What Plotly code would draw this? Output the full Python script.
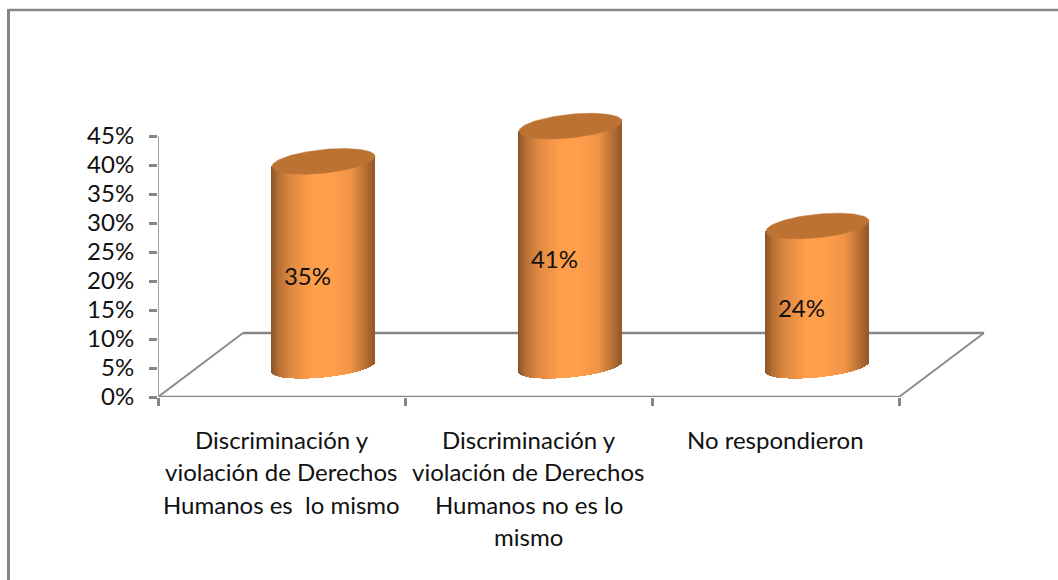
import numpy as np
import plotly.graph_objects as go

# ---- data ----
categories = [
    ["Discriminación y", "violación de Derechos", "Humanos es  lo mismo"],
    ["Discriminación y", "violación de Derechos", "Humanos no es lo", "mismo"],
    ["No respondieron"],
]
values = [35, 41, 24]
value_labels = ["35%", "41%", "24%"]
y_ticks = [0, 5, 10, 15, 20, 25, 30, 35, 40, 45]
y_tick_labels = ["0%", "5%", "10%", "15%", "20%", "25%", "30%", "35%", "40%", "45%"]

# ---- style / geometry ----
W, H = 1058, 580
L, R, T, B = 158, 990, 100, 397      # plot area in page pixels
PX_CAT = 247.0                        # pixels per category
PX_PCT = 5.8                          # pixels per percentage point
X0 = -0.5
GREY = "#868686"
FONT = "Lato"
FS = 24
DEPTH_X = 85 / PX_CAT                 # floor depth, category units
DEPTH_Y = 64 / PX_PCT                 # floor depth, value units
BAR_SHIFT = 42 / PX_CAT               # bars stand mid-depth
BAR_BASE = 30 / PX_PCT
BAR_SCALE = 1.013
RADIUS = 51.5 / PX_CAT
TILT = 5 / PX_PCT
TOP_B = 11.8 / PX_PCT
BOT_B = 10.5 / PX_PCT
STRIP = 1.0 / PX_CAT

stops_u = [-1.0, -0.85, -0.6, -0.2, 0.2, 0.55, 0.75, 0.9, 1.0]
stops_r = [0x8a, 0xb8, 0xe0, 0xff, 0xff, 0xf2, 0xc8, 0xaa, 0x96]
stops_g = [0x55, 0x70, 0x8a, 0x9e, 0x9e, 0x94, 0x7a, 0x67, 0x58]
stops_b = [0x28, 0x35, 0x42, 0x4b, 0x4b, 0x47, 0x3a, 0x30, 0x28]


def shade(u):
    return "rgb(%d,%d,%d)" % (
        np.interp(u, stops_u, stops_r),
        np.interp(u, stops_u, stops_g),
        np.interp(u, stops_u, stops_b),
    )


fig = go.Figure()

# cylinder bodies: one narrow bar per pixel column, ellipse at the foot
for i, v in enumerate(values):
    cx = i + BAR_SHIFT
    top = BAR_BASE + v * BAR_SCALE
    us = np.arange(-1 + STRIP / RADIUS / 2, 1, STRIP / RADIUS)
    xs = cx + RADIUS * us
    bases = BAR_BASE + TILT * us - BOT_B * np.sqrt(1 - us ** 2)
    tops = top + TILT * us
    fig.add_trace(go.Bar(
        x=xs, y=tops - bases, base=bases, width=STRIP * 1.15,
        marker=dict(color=[shade(u) for u in us], line=dict(width=0)),
        showlegend=False, hoverinfo="skip",
    ))

# cylinder tops
for i, v in enumerate(values):
    cx = i + BAR_SHIFT
    top = BAR_BASE + v * BAR_SCALE
    t = np.linspace(0, 2 * np.pi, 121)
    fig.add_trace(go.Scatter(
        x=cx + RADIUS * np.cos(t),
        y=top + TILT * np.cos(t) + TOP_B * np.sin(t),
        mode="lines", fill="toself", fillcolor="#BC7233",
        line=dict(color="#BC7233", width=0.5),
        showlegend=False, hoverinfo="skip", cliponaxis=False,
    ))

# axis lines
axis_line = dict(color=GREY, width=2.6)
fig.add_trace(go.Scatter(x=[X0, X0 + len(values)], y=[0, 0], mode="lines", line=axis_line,
                         showlegend=False, hoverinfo="skip", cliponaxis=False))
fig.add_trace(go.Scatter(x=[X0, X0], y=[0, y_ticks[-1]], mode="lines",
                         line=dict(color="#a0a0a0", width=2),
                         showlegend=False, hoverinfo="skip", cliponaxis=False))

# value labels
fig.add_trace(go.Scatter(
    x=[i + 26 / PX_CAT for i in range(len(values))],
    y=[v / 2 + 2.8 for v in values],
    text=value_labels, mode="text",
    textfont=dict(family=FONT, size=FS, color="#111111"),
    showlegend=False, hoverinfo="skip", cliponaxis=False,
))

# floor, behind the cylinders
n = len(values)
floor = dict(color="#8c8c8c", width=2)
shapes = [
    dict(type="line", xref="x", yref="y", layer="below", line=floor,
         x0=X0, y0=0, x1=X0 + DEPTH_X, y1=DEPTH_Y),
    dict(type="line", xref="x", yref="y", layer="below", line=dict(color=GREY, width=2.6),
         x0=X0 + DEPTH_X, y0=DEPTH_Y, x1=X0 + n + DEPTH_X, y1=DEPTH_Y),
    dict(type="line", xref="x", yref="y", layer="below", line=floor,
         x0=X0 + n, y0=0, x1=X0 + n + DEPTH_X, y1=DEPTH_Y),
]
# outer frame (open on the right and bottom)
fx = (8.5 - L) / (R - L)
to_py = lambda py: (B - py) / (B - T)
shapes += [
    dict(type="line", xref="paper", yref="paper", line=dict(color=GREY, width=3),
         x0=fx, x1=fx, y0=to_py(9), y1=to_py(H)),
    dict(type="line", xref="paper", yref="paper", line=dict(color=GREY, width=2.5),
         x0=fx, x1=(W - L) / (R - L), y0=to_py(10), y1=to_py(10)),
]

# category labels, one annotation per line
annotations = []
for i, lines in enumerate(categories):
    for j, line in enumerate(lines):
        annotations.append(dict(
            x=i, y=0, xref="x", yref="y", text=line, showarrow=False,
            yshift=-(42 + 32.5 * j), xanchor="center", yanchor="middle",
            font=dict(family=FONT, size=FS, color="#111111"),
        ))

fig.update_layout(
    width=W, height=H, autosize=False,
    margin=dict(l=L, r=W - R, t=T, b=H - B, pad=0),
    paper_bgcolor="white", plot_bgcolor="white",
    bargap=0, barmode="overlay", showlegend=False,
    shapes=shapes, annotations=annotations,
    xaxis=dict(
        range=[X0, X0 + (R - L) / PX_CAT], showgrid=False, zeroline=False, showline=False,
        tickmode="array", tickvals=[X0 + k for k in range(n + 1)],
        ticks="outside", ticklen=8, tickwidth=2.6, tickcolor=GREY, showticklabels=False,
    ),
    yaxis=dict(
        range=[0, (B - T) / PX_PCT], showgrid=False, zeroline=False, showline=False,
        tickmode="array", tickvals=y_ticks, ticktext=y_tick_labels,
        ticks="outside", ticklen=8, tickwidth=2.6, tickcolor=GREY,
        ticklabelstandoff=10,
        tickfont=dict(family=FONT, size=FS, color="#111111"),
    ),
)

fig.write_html("out.html", include_plotlyjs=True,
               config={"displayModeBar": False},
               post_script="document.body.style.margin='0';document.body.style.overflow='hidden';")
